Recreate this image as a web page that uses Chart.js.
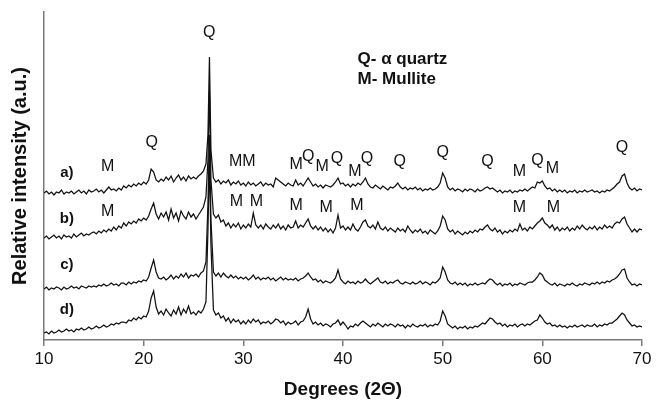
<!DOCTYPE html>
<html>
<head>
<meta charset="utf-8">
<script src="https://cdn.jsdelivr.net/npm/chart.js@4.4.0/dist/chart.umd.min.js"></script>
<style>
  html, body { margin: 0; padding: 0; background: #fff; }
  #wrap { width: 656px; height: 404px; }
</style>
</head>
<body>
<div id="wrap"><canvas id="xrd-chart"></canvas></div>
<script>
// XRD patterns, values (relative intensity, arbitrary units)

// 2-theta positions shared by all four patterns
const degrees = [
    10, 10.25, 10.5, 10.75, 11, 11.25, 11.5, 11.75, 12, 12.25, 12.5, 12.75, 13, 13.25, 13.5, 13.75, 14, 14.25, 14.5, 14.75,
    15, 15.25, 15.5, 15.75, 16, 16.25, 16.5, 16.75, 17, 17.25, 17.5, 17.75, 18, 18.25, 18.5, 18.75, 19, 19.25, 19.5, 19.75,
    20, 20.25, 20.5, 20.75, 21, 21.25, 21.5, 21.75, 22, 22.25, 22.5, 22.75, 23, 23.25, 23.5, 23.75, 24, 24.25, 24.5, 24.75,
    25, 25.25, 25.5, 25.75, 26, 26.25, 26.45, 26.6, 26.75, 27, 27.25, 27.5, 27.75, 28, 28.25, 28.5, 28.75, 29, 29.25, 29.5, 29.75,
    30, 30.25, 30.5, 30.75, 31, 31.25, 31.5, 31.75, 32, 32.25, 32.5, 32.75, 33, 33.25, 33.5, 33.75, 34, 34.25, 34.5, 34.75,
    35, 35.25, 35.5, 35.75, 36, 36.25, 36.5, 36.75, 37, 37.25, 37.5, 37.75, 38, 38.25, 38.5, 38.75, 39, 39.25, 39.5, 39.75,
    40, 40.25, 40.5, 40.75, 41, 41.25, 41.5, 41.75, 42, 42.25, 42.5, 42.75, 43, 43.25, 43.5, 43.75, 44, 44.25, 44.5, 44.75,
    45, 45.25, 45.5, 45.75, 46, 46.25, 46.5, 46.75, 47, 47.25, 47.5, 47.75, 48, 48.25, 48.5, 48.75, 49, 49.25, 49.5, 49.75,
    50, 50.25, 50.5, 50.75, 51, 51.25, 51.5, 51.75, 52, 52.25, 52.5, 52.75, 53, 53.25, 53.5, 53.75, 54, 54.25, 54.5, 54.75,
    55, 55.25, 55.5, 55.75, 56, 56.25, 56.5, 56.75, 57, 57.25, 57.5, 57.75, 58, 58.25, 58.5, 58.75, 59, 59.25, 59.5, 59.75,
    60, 60.25, 60.5, 60.75, 61, 61.25, 61.5, 61.75, 62, 62.25, 62.5, 62.75, 63, 63.25, 63.5, 63.75, 64, 64.25, 64.5, 64.75,
    65, 65.25, 65.5, 65.75, 66, 66.25, 66.5, 66.75, 67, 67.25, 67.5, 67.75, 68, 68.25, 68.5, 68.75, 69, 69.25, 69.5, 69.75,
    70
];

const patternA = [
    147, 149, 146, 148, 145, 148, 147, 150, 146, 148, 147, 149, 146, 148, 150, 147, 149, 146, 150, 148,
    149, 151, 148, 150, 147, 150, 153, 150, 151, 149, 152, 150, 154, 152, 155, 153, 156, 154, 157, 155,
    158, 156, 160, 171, 168, 160, 158, 161, 159, 163, 160, 164, 158, 162, 165, 160, 163, 159, 164, 161,
    163, 161, 164, 166, 169, 176, 205, 283, 190, 162, 158, 160, 156, 159, 157, 160, 155, 158, 156, 159, 155,
    157, 154, 158, 155, 157, 154, 156, 158, 154, 157, 155, 156, 153, 162, 160, 158, 156, 154, 157, 155,
    154, 160, 155, 157, 154, 158, 162, 158, 154, 156, 153, 155, 152, 155, 154, 153, 155, 158, 162, 156,
    157, 154, 156, 153, 156, 154, 157, 155, 158, 162, 156, 153, 152, 155, 153, 151, 154, 152, 150, 153,
    152, 154, 157, 153, 151, 153, 150, 152, 151, 153, 150, 152, 149, 151, 150, 152, 150, 151, 153, 157,
    167, 162, 153, 150, 152, 149, 151, 150, 148, 151, 149, 151, 150, 148, 151, 149, 150, 152, 153, 151,
    152, 150, 148, 150, 147, 149, 148, 150, 147, 149, 148, 150, 149, 151, 149, 151, 153, 152, 158, 157,
    159, 154, 151, 152, 149, 151, 148, 150, 148, 150, 147, 149, 148, 150, 147, 149, 148, 150, 148, 149,
    150, 148, 149, 147, 149, 148, 150, 149, 151, 153, 156, 158, 164, 166, 157, 152, 150, 152, 149, 151,
    150
];

const patternB = [
    102, 104, 101, 103, 105, 102, 104, 101, 105, 103, 104, 102, 106, 103, 105, 107, 104, 106, 105, 107,
    108, 106, 109, 107, 110, 108, 111, 109, 113, 110, 114, 112, 117, 114, 118, 116, 119, 117, 121, 119,
    122, 120, 124, 131, 137, 126, 121, 127, 123, 128, 120, 131, 122, 127, 119, 129, 124, 121, 128, 123,
    126, 121, 125, 129, 133, 143, 180, 250, 160, 126, 122, 125, 118, 120, 114, 117, 112, 116, 113, 117, 111,
    115, 112, 116, 113, 127, 115, 112, 115, 111, 116, 113, 111, 115, 112, 116, 111, 114, 110, 115, 112,
    113, 119, 112, 115, 113, 117, 121, 114, 111, 114, 110, 113, 109, 112, 108, 111, 107, 112, 125, 112,
    114, 110, 113, 110, 116, 111, 109, 113, 118, 120, 114, 112, 115, 111, 118, 112, 110, 113, 109, 112,
    110, 108, 112, 109, 111, 108, 114, 110, 107, 110, 108, 111, 107, 109, 106, 110, 108, 106, 109, 114,
    124, 120, 111, 108, 110, 106, 109, 107, 105, 108, 106, 109, 107, 110, 108, 111, 110, 113, 115, 111,
    109, 112, 108, 110, 106, 109, 107, 110, 108, 111, 109, 116, 110, 112, 109, 113, 111, 114, 117, 119,
    122, 117, 115, 112, 115, 110, 113, 109, 112, 110, 113, 109, 112, 110, 114, 111, 115, 112, 110, 113,
    111, 114, 110, 113, 111, 115, 112, 114, 112, 116, 118, 117, 121, 123, 116, 112, 108, 111, 108, 111,
    110
];

const patternC = [
    51, 53, 50, 52, 51, 53, 52, 50, 53, 51, 52, 54, 52, 53, 51, 54, 53, 52, 54, 53,
    54, 53, 55, 54, 56, 54, 55, 57, 55, 56, 54, 57, 57, 55, 58, 56, 58, 57, 59, 58,
    60, 59, 63, 72, 80, 68, 62, 61, 63, 60, 62, 65, 61, 64, 62, 66, 63, 67, 62, 65,
    64, 66, 63, 67, 69, 78, 135, 205, 120, 68, 64, 67, 63, 67, 64, 62, 65, 62, 64, 61, 63,
    61, 63, 60, 62, 65, 61, 63, 60, 62, 61, 63, 60, 62, 59, 61, 63, 60, 62, 60, 61,
    60, 62, 59, 61, 62, 64, 67, 63, 60, 61, 58, 60, 57, 59, 58, 57, 59, 62, 70, 61,
    58, 56, 59, 57, 58, 56, 59, 57, 58, 61, 58, 56, 58, 60, 62, 58, 57, 59, 56, 58,
    57, 59, 60, 57, 56, 58, 57, 56, 58, 56, 57, 59, 56, 58, 57, 55, 58, 57, 59, 62,
    73, 68, 60, 57, 56, 58, 55, 57, 55, 57, 54, 56, 55, 57, 55, 56, 57, 56, 59, 61,
    60, 57, 55, 57, 54, 56, 55, 57, 54, 56, 55, 57, 56, 55, 57, 58, 58, 60, 63, 67,
    65, 60, 58, 56, 55, 57, 54, 56, 55, 54, 56, 55, 57, 55, 54, 56, 55, 57, 56, 55,
    57, 56, 58, 56, 58, 57, 59, 58, 60, 61, 63, 66, 70, 71, 62, 58, 55, 56, 54, 56,
    55
];

const patternD = [
    7, 8, 6, 9, 7, 8, 10, 8, 9, 11, 9, 10, 8, 11, 10, 12, 10, 11, 13, 11,
    12, 14, 12, 13, 15, 13, 14, 16, 15, 17, 16, 18, 18, 17, 20, 19, 22, 20, 23, 21,
    24, 23, 29, 42, 49, 33, 26, 29, 25, 31, 27, 24, 30, 26, 33, 25, 31, 27, 34, 26,
    28, 25, 29, 27, 31, 38, 110, 185, 95, 30, 25, 27, 22, 24, 19, 22, 17, 21, 18, 20, 16,
    19, 16, 20, 17, 21, 18, 20, 16, 18, 17, 19, 16, 18, 21, 20, 17, 19, 15, 18, 16,
    17, 19, 15, 18, 19, 23, 31, 21, 16, 18, 15, 17, 14, 16, 15, 13, 16, 17, 20, 15,
    18, 15, 11, 14, 13, 16, 14, 17, 19, 17, 15, 13, 16, 14, 17, 15, 13, 16, 14, 16,
    15, 13, 16, 14, 15, 12, 15, 13, 16, 14, 13, 15, 14, 16, 13, 15, 14, 16, 15, 19,
    29, 24, 16, 14, 12, 14, 11, 13, 12, 14, 11, 13, 12, 14, 13, 15, 17, 16, 19, 22,
    21, 18, 16, 17, 14, 16, 13, 15, 14, 16, 13, 15, 16, 14, 16, 15, 17, 19, 20, 25,
    22, 18, 16, 17, 14, 15, 13, 15, 13, 14, 12, 14, 13, 15, 13, 14, 15, 13, 15, 14,
    14, 16, 13, 15, 14, 16, 15, 17, 17, 19, 21, 24, 27, 25, 20, 17, 14, 15, 13, 14,
    13
];

const xTicks = [10, 20, 30, 40, 50, 60, 70];

// phase marks: [2-theta, intensity, text]
const phaseMarks = [
    [26.58, 307, 'Q'], [20.8, 197, 'Q'],
    [16.4, 173, 'M'], [29.9, 178, 'MM'], [35.3, 175, 'M'], [36.5, 183, 'Q'], [37.9, 173, 'M'],
    [39.4, 181, 'Q'], [41.2, 168, 'M'], [42.4, 181, 'Q'], [45.7, 178, 'Q'], [50.0, 187, 'Q'],
    [54.5, 178, 'Q'], [57.7, 168, 'M'], [59.5, 179, 'Q'], [61.0, 171, 'M'], [68.0, 192, 'Q'],
    [16.4, 128, 'M'], [29.3, 138, 'M'], [31.3, 138, 'M'], [35.3, 134, 'M'], [38.3, 132, 'M'],
    [41.4, 134, 'M'], [57.7, 132, 'M'], [61.1, 132, 'M']
];

// sample names: [2-theta, intensity, text]
const sampleNames = [
    [12.3, 167, 'a)'], [12.3, 121, 'b)'], [12.3, 75, 'c)'], [12.3, 30, 'd)']
];

// key: [2-theta, intensity, text]
const keyLines = [
    [41.46, 281, 'Q- \u03b1 quartz'], [41.46, 261, 'M- Mullite']
];

[patternA, patternB, patternC, patternD].forEach(function(p, i) {
    if (p.length !== degrees.length) {
        throw new Error('pattern ' + i + ' has ' + p.length + ' values, expected ' + degrees.length);
    }
});

const FONT = '"Liberation Sans", Arial, Helvetica, sans-serif';

function toPoints(values) {
    return degrees.map(function(d, i) { return { x: d, y: values[i] }; });
}

// draw the letters and sample names in data coordinates
const markLabels = {
    id: 'markLabels',
    afterDatasetsDraw(chart) {
        const ctx = chart.ctx;
        const xs = chart.scales.x;
        const ys = chart.scales.y;
        ctx.save();
        ctx.fillStyle = '#111';
        ctx.textBaseline = 'middle';

        ctx.font = '16px ' + FONT;
        ctx.textAlign = 'center';
        phaseMarks.forEach(function(m) {
            ctx.fillText(m[2], xs.getPixelForValue(m[0]), ys.getPixelForValue(m[1]));
        });

        ctx.font = 'bold 15px ' + FONT;
        sampleNames.forEach(function(m) {
            ctx.fillText(m[2], xs.getPixelForValue(m[0]), ys.getPixelForValue(m[1]));
        });

        ctx.font = 'bold 17px ' + FONT;
        ctx.textAlign = 'left';
        keyLines.forEach(function(m) {
            ctx.fillText(m[2], xs.getPixelForValue(m[0]), ys.getPixelForValue(m[1]));
        });
        ctx.restore();
    }
};

function lineSet(values) {
    return {
        data: toPoints(values),
        borderColor: '#111',
        borderWidth: 1.25,
        pointRadius: 0,
        tension: 0,
        fill: false
    };
}

const ctx = document.getElementById('xrd-chart');
new Chart(ctx, {
    type: 'line',
    data: {
        datasets: [lineSet(patternA), lineSet(patternB), lineSet(patternC), lineSet(patternD)]
    },
    options: {
        responsive: true,
        maintainAspectRatio: false,
        animation: false,
        events: [],
        layout: {
            padding: { top: 12, right: 14, left: 0, bottom: 0 }
        },
        plugins: {
            legend: { display: false },
            tooltip: { enabled: false }
        },
        scales: {
            x: {
                type: 'linear',
                min: 10,
                max: 70,
                afterBuildTicks: function(scale) {
                    scale.ticks = xTicks.map(function(v) { return { value: v }; });
                },
                afterFit: function(scale) {
                    scale.height = 64;
                },
                grid: {
                    display: true,
                    drawOnChartArea: false,
                    drawTicks: true,
                    tickLength: 6,
                    color: '#7a7a7a',
                    lineWidth: 1.5
                },
                border: {
                    display: true,
                    color: '#7a7a7a',
                    width: 1.5
                },
                ticks: {
                    color: '#111',
                    padding: 3,
                    maxRotation: 0,
                    font: { family: FONT, size: 17 }
                },
                title: {
                    display: true,
                    text: 'Degrees (2\u0398)',
                    color: '#111',
                    padding: { top: 0, bottom: 3 },
                    font: { family: FONT, size: 19, weight: 'bold' }
                }
            },
            y: {
                min: 0,
                max: 328,
                afterFit: function(scale) {
                    scale.width = 44;
                },
                grid: { display: false },
                border: {
                    display: true,
                    color: '#7a7a7a',
                    width: 1.5
                },
                ticks: { display: false },
                title: {
                    display: true,
                    text: 'Relative intensity (a.u.)',
                    color: '#111',
                    padding: { top: 8, bottom: 0 },
                    font: { family: FONT, size: 20, weight: 'bold' }
                }
            }
        }
    },
    plugins: [markLabels]
});
</script>
</body>
</html>
